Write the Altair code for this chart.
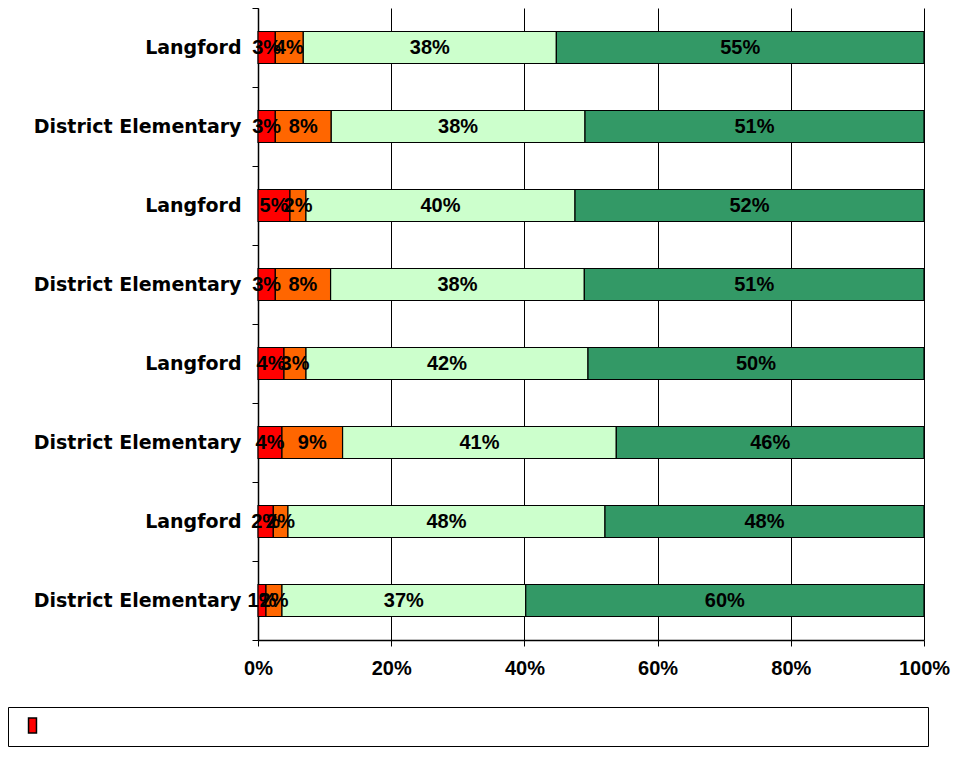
import json
import altair as alt
import pandas as pd

rows = ["Langford", "District Elementary", "Langford", "District Elementary",
        "Langford", "District Elementary", "Langford", "District Elementary"]
series = ["Level 1", "Level 2", "Level 3", "Level 4"]
level1 = [2.6, 2.6, 4.8, 2.6, 3.9, 3.6, 2.3, 1.2]
level2 = [4.2, 8.4, 2.4, 8.3, 3.3, 9.1, 2.2, 2.4]
level3 = [38.0, 38.1, 40.4, 38.1, 42.3, 41.1, 47.6, 36.6]
level4 = [55.2, 50.9, 52.4, 51.0, 50.4, 46.2, 47.9, 59.8]
colors = ["#FF0000", "#FF6600", "#CCFFCC", "#339966"]
x_ticks = [0, 0.2, 0.4, 0.6, 0.8, 1.0]

records = []
for s_i, vals in enumerate([level1, level2, level3, level4]):
    for r_i, v in enumerate(vals):
        records.append({"row": r_i, "series": series[s_i], "order": s_i, "value": v})
df = pd.DataFrame(records)

FONT = "Liberation Sans"
YFONT = "DejaVu Sans"
label_expr = json.dumps(rows) + "[datum.value]"

base = alt.Chart(df).transform_stack(
    stack="value", groupby=["row"], as_=["x0", "x1"],
    sort=[alt.SortField("order", order="ascending")], offset="normalize"
).transform_calculate(
    mid="(datum.x0 + datum.x1) / 2",
    lbl="round(datum.value) + '%'"
)

y_enc = alt.Y("row:O", scale=alt.Scale(paddingInner=0, paddingOuter=0),
              axis=alt.Axis(title=None, labelExpr=label_expr, labelFont=YFONT,
                            labelFontSize=19, labelFontWeight="bold", labelColor="black",
                            labelLimit=400,
                            domainColor="black", domainWidth=1.5, tickColor="black",
                            tickSize=6, tickBand="extent", labelPadding=11, grid=False))

bars = base.mark_bar(size=32, stroke="black", strokeWidth=1.2).encode(
    x=alt.X("x0:Q", scale=alt.Scale(domain=[0, 1], nice=False),
            axis=alt.Axis(title=None, values=x_ticks, format=".0%", labelFont=FONT,
                          labelFontSize=20, labelFontWeight="bold", labelColor="black",
                          labelFlush=False,
                          grid=True, gridColor="black", gridOpacity=1, gridWidth=1,
                          domainColor="black", domainWidth=1.5, tickColor="black",
                          tickSize=6, labelPadding=12)),
    x2="x1:Q",
    y=y_enc,
    color=alt.Color("series:N", scale=alt.Scale(domain=series, range=colors),
                    legend=alt.Legend(title=None, values=[series[0]],
                                      orient="none", legendX=-250, legendY=699,
                                      strokeColor="black", fillColor="white",
                                      padding=10, symbolOffset=6,
                                      symbolType="M-0.53,-1H0.53V1H-0.53Z", symbolSize=225,
                                      symbolStrokeColor="black", symbolStrokeWidth=1.5,
                                      symbolFillColor="#FF0000", symbolOpacity=1,
                                      labelFont=FONT, labelFontSize=14, labelLimit=2000,
                                      labelColor="transparent",
                                      labelExpr="'" + "_" * 112 + "'")),
)

texts = base.mark_text(font=FONT, fontSize=20, fontWeight="bold", color="black",
                       align="center", baseline="middle").encode(
    x="mid:Q",
    y=alt.Y("row:O"),
    text="lbl:N",
)

chart = alt.layer(bars, texts).properties(
    width=666, height=632, background="white",
    autosize=alt.AutoSizeParams(type="none"),
    padding={"left": 250, "top": 0, "right": 28, "bottom": 109},
).configure_view(strokeWidth=0)

chart.save("out.html", embed_options={"renderer": "svg", "actions": False})
